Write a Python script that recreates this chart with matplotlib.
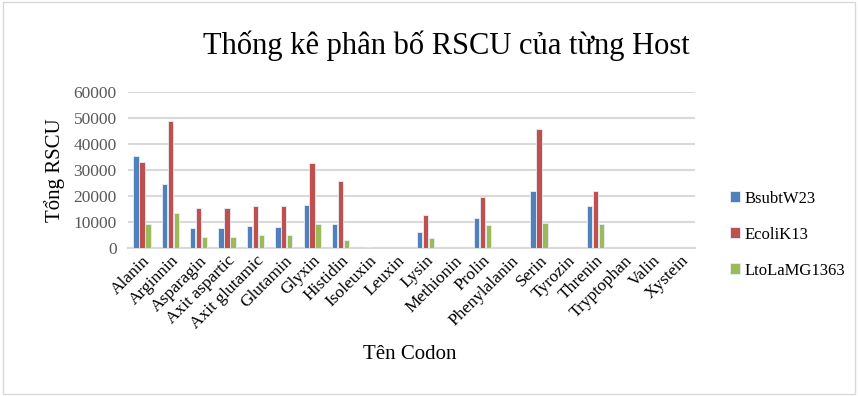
import numpy as np
import matplotlib
matplotlib.use("Agg")
import matplotlib.pyplot as plt
from matplotlib.patches import Rectangle

plt.rcParams['font.family'] = ['Liberation Serif', 'DejaVu Serif']

codons = ['Alanin', 'Arginnin', 'Asparagin', 'Axit aspartic', 'Axit glutamic',
          'Glutamin', 'Glyxin', 'Histidin', 'Isoleuxin', 'Leuxin', 'Lysin',
          'Methionin', 'Prolin', 'Phenylalanin', 'Serin', 'Tyrozin', 'Threnin',
          'Tryptophan', 'Valin', 'Xystein']
bsubt = [35500, 24500, 7700, 7700, 8300, 8200, 16500, 9200, 0, 0, 6000,
         0, 11400, 0, 21700, 0, 16300, 0, 0, 0]
ecoli = [33000, 48700, 15500, 15400, 16300, 16300, 32700, 25600, 400, 0, 12600,
         0, 19500, 0, 45700, 0, 21900, 0, 0, 0]
lto = [9200, 13500, 4000, 4200, 4800, 4800, 9300, 2900, 0, 0, 3900,
       0, 8800, 0, 9700, 0, 9000, 0, 0, 0]
series = ['BsubtW23', 'EcoliK13', 'LtoLaMG1363']
colors = ['#4F81BD', '#C0504D', '#9BBB59']

fig = plt.figure(figsize=(8.58, 3.96), dpi=100)
fig.patches.append(Rectangle((0.003, 0.005), 0.994, 0.99, transform=fig.transFigure,
                             fill=False, edgecolor='#D9D9D9', linewidth=1))
ax = fig.add_axes([0.149, 0.374, 0.661, 0.394])

x = np.arange(len(codons))
w = 0.19
for i, (vals, c, name) in enumerate(zip([bsubt, ecoli, lto], colors, series)):
    ax.bar(x + (i - 1) * 0.21, vals, width=w, color=c, label=name,
           edgecolor='#E8EEF7', linewidth=0.6, zorder=3)

ax.set_xlim(-0.5, len(codons) - 0.5)
ax.set_ylim(0, 60000)
ax.set_yticks(np.arange(0, 60001, 10000))
ax.yaxis.grid(True, color='#D9D9D9', linewidth=1.5, zorder=0)
for s in ['top', 'right', 'left']:
    ax.spines[s].set_visible(False)
ax.spines['bottom'].set_color('#D9D9D9')
ax.spines['bottom'].set_linewidth(1.5)
ax.tick_params(axis='both', length=0)
ax.tick_params(axis='y', labelcolor='#595959', labelsize=12.5, pad=8)
ax.set_xticks(x)
ax.set_xticklabels(codons, rotation=45, ha='right', rotation_mode='anchor', fontsize=12.5)

ax.set_ylabel('Tổng RSCU', fontsize=15, labelpad=6)
fig.text(0.478, 0.105, 'Tên Codon', ha='center', va='center', fontsize=15)
fig.text(0.52, 0.885, 'Thống kê phân bố RSCU của từng Host', ha='center', va='center', fontsize=22)

ax.legend(loc='center left', bbox_to_anchor=(1.035, 0.085), frameon=False, fontsize=12,
          handlelength=0.6, handleheight=0.6, handletextpad=0.3, labelspacing=1.2)

fig.savefig('out.png', dpi=100)
